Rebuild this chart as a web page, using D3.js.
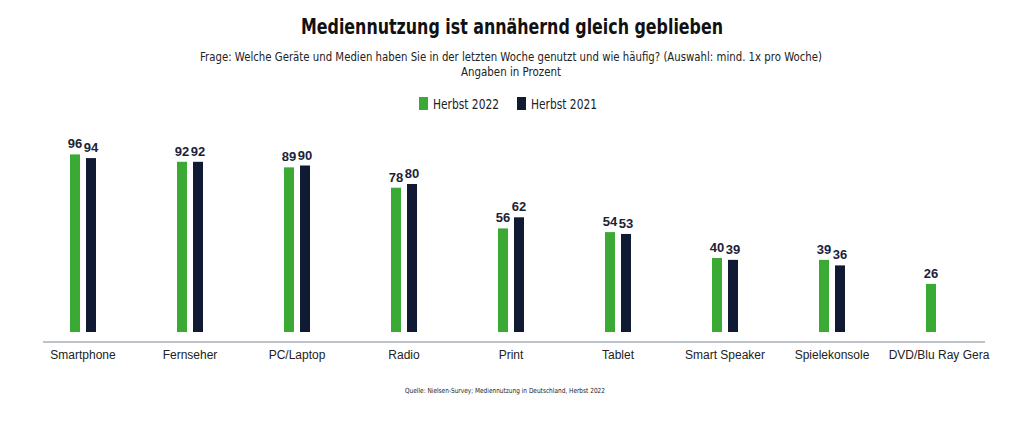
<!DOCTYPE html>
<html>
<head>
<meta charset="utf-8">
<script src="https://cdn.jsdelivr.net/npm/d3@7"></script>
<style>
  body { margin: 0; background: #fff; }
  svg { display: block; }
</style>
</head>
<body>
<svg id="chart"></svg>
<script>
// Daten aus der Grafik
let categories = ["Smartphone", "Fernseher", "PC/Laptop", "Radio", "Print", "Tablet", "Smart Speaker", "Spielekonsole", "DVD/Blu Ray Gera"];
let herbst2022 = [96, 92, 89, 78, 56, 54, 40, 39, 26];
let herbst2021 = [94, 92, 90, 80, 62, 53, 39, 36, null];
let seriesNames = ["Herbst 2022", "Herbst 2021"];
let colors = ["#3aaa35", "#111a33"];

const width = 1024;
const height = 424;
const baseY = 332;
let svg = d3.select("#chart").attr("width", width).attr("height", height);

const condensed = "'DejaVu Sans Condensed', 'Liberation Sans', sans-serif";
const regular = "'Liberation Sans', Arial, sans-serif";

// Titel (Schrift schmal gezogen, wie im Original)
svg.append("text")
    .attr("x", 512).attr("y", 34)
    .attr("text-anchor", "middle")
    .attr("textLength", 422)
    .attr("lengthAdjust", "spacingAndGlyphs")
    .style("font-family", condensed)
    .style("font-weight", "bold")
    .style("font-size", "21px")
    .style("fill", "#111")
    .text("Mediennutzung ist annähernd gleich geblieben");

svg.append("text")
    .attr("x", 511).attr("y", 61)
    .attr("text-anchor", "middle")
    .attr("textLength", 622)
    .attr("lengthAdjust", "spacingAndGlyphs")
    .style("font-family", condensed)
    .style("font-size", "13px")
    .style("fill", "#222")
    .text("Frage: Welche Geräte und Medien haben Sie in der letzten Woche genutzt und wie häufig? (Auswahl: mind. 1x pro Woche)");

svg.append("text")
    .attr("x", 511).attr("y", 76)
    .attr("text-anchor", "middle")
    .attr("textLength", 100)
    .attr("lengthAdjust", "spacingAndGlyphs")
    .style("font-family", condensed)
    .style("font-size", "13px")
    .style("fill", "#222")
    .text("Angaben in Prozent");

// Legende
let legendX = [419, 517];
seriesNames.forEach((name, i) => {
    let g = svg.append("g").attr("transform", `translate(${legendX[i]}, 97)`);
    g.append("rect").attr("width", 9).attr("height", 13).attr("fill", colors[i]);
    g.append("text")
        .attr("x", 14).attr("y", 11.5)
        .attr("textLength", 66)
        .attr("lengthAdjust", "spacingAndGlyphs")
        .style("font-family", condensed)
        .style("font-size", "13.5px")
        .style("fill", "#222")
        .text(name);
});

// Skalen
let scaleX = d3.scaleBand()
    .domain(categories)
    .range([29.5, 992.5]);

let scaleSub = d3.scaleBand()
    .domain(seriesNames)
    .range([-13, 13])
    .paddingInner(0.375);

let scaleY = d3.scaleLinear()
    .domain([0, 100])
    .range([baseY, baseY - 185]);

// Achse
svg.append("line")
    .attr("x1", 43).attr("x2", 985)
    .attr("y1", 342).attr("y2", 342)
    .attr("stroke", "#7d8791")
    .attr("stroke-width", 1.2);

svg.append("g")
    .selectAll("text")
    .data(categories)
    .enter()
    .append("text")
    .attr("x", (d) => scaleX(d) + scaleX.bandwidth() / 2)
    .attr("y", 359)
    .attr("text-anchor", "middle")
    .style("font-family", regular)
    .style("font-size", "12px")
    .style("fill", "#222")
    .text((d) => d);

// Balken
let seriesData = [herbst2022, herbst2021];
seriesData.forEach((values, i) => {
    let data = categories
        .map((c, j) => ({ cat: c, value: values[j] }))
        .filter((d) => d.value != null);
    let cx = (d) => scaleX(d.cat) + scaleX.bandwidth() / 2 + scaleSub(seriesNames[i]);

    svg.append("g")
        .selectAll("rect")
        .data(data)
        .enter()
        .append("rect")
        .attr("x", cx)
        .attr("y", (d) => scaleY(d.value))
        .attr("width", scaleSub.bandwidth())
        .attr("height", (d) => baseY - scaleY(d.value))
        .attr("fill", colors[i]);

    svg.append("g")
        .selectAll("text")
        .data(data)
        .enter()
        .append("text")
        .attr("x", (d) => cx(d) + scaleSub.bandwidth() / 2)
        .attr("y", (d) => scaleY(d.value) - 6)
        .attr("text-anchor", "middle")
        .style("font-family", regular)
        .style("font-weight", "bold")
        .style("font-size", "13px")
        .style("fill", "#1b2238")
        .text((d) => d.value);
});

// Quelle
svg.append("text")
    .attr("x", 505).attr("y", 393)
    .attr("text-anchor", "middle")
    .attr("textLength", 200)
    .attr("lengthAdjust", "spacingAndGlyphs")
    .style("font-family", condensed)
    .style("font-size", "7px")
    .style("fill", "#222")
    .text("Quelle: Nielsen-Survey; Mediennutzung in Deutschland, Herbst 2022");
</script>
</body>
</html>
